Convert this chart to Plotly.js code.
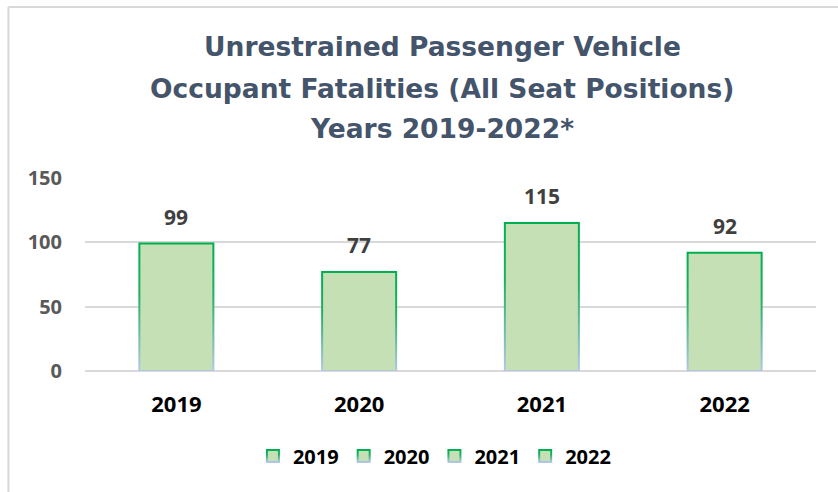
<!DOCTYPE html>
<html>
<head>
<meta charset="utf-8">
<script src="https://cdn.plot.ly/plotly-3.0.1.min.js"></script>
<style>
html,body{margin:0;padding:0;background:#fff;}
#chart{width:838px;height:492px;}
</style>
</head>
<body>
<div id="chart"></div>
<script>
const categories = ['2019', '2020', '2021', '2022'];
const values = [99, 77, 115, 92];
const yTicks = [0, 50, 100, 150];
const titleLines = ['Unrestrained Passenger Vehicle', 'Occupant Fatalities (All Seat Positions)', 'Years 2019-2022*'];

const traces = categories.map((c, i) => ({
  type: 'bar',
  name: c,
  x: [c],
  y: [values[i]],
  width: 0.405,
  marker: {color: '#C5E0B4', line: {color: '#00B050', width: 2}},
  hoverinfo: 'x+y'
}));

const labelAnnotations = categories.map((c, i) => ({
  x: i, y: values[i], xref: 'x', yref: 'y',
  text: String(values[i]), showarrow: false,
  yanchor: 'bottom', yshift: 11,
  font: {family: 'Open Sans, sans-serif', size: 21, color: '#404040', weight: 'bold'}
}));

const titleY = [1.679, 1.466, 1.254];
const titleAnnotations = titleLines.map((t, i) => ({
  x: 0.4884, y: titleY[i], xref: 'paper', yref: 'paper',
  xanchor: 'center', yanchor: 'middle', showarrow: false,
  text: t,
  font: {family: 'DejaVu Sans, sans-serif', size: 26.5, color: '#44546A', weight: 'bold'}
}));

const layout = {
  width: 838, height: 492,
  margin: {l: 85, r: 22, t: 178, b: 121},
  paper_bgcolor: '#ffffff', plot_bgcolor: '#ffffff',
  barmode: 'overlay',
  xaxis: {
    type: 'category', categoryorder: 'array', categoryarray: categories,
    range: [-0.5, 3.5],
    showgrid: false, zeroline: false, showline: false, ticks: '',
    ticklabelstandoff: 18,
    tickfont: {family: 'Open Sans, sans-serif', size: 22, color: '#000000', weight: 'bold'},
    fixedrange: true
  },
  yaxis: {
    range: [0, 150], tickvals: yTicks, ticktext: yTicks.map(String),
    showgrid: true, gridcolor: '#D9D9D9', gridwidth: 2,
    zeroline: true, zerolinecolor: '#D9D9D9', zerolinewidth: 2,
    showline: false, ticks: '', ticklabelstandoff: 22,
    tickfont: {family: 'Open Sans, sans-serif', size: 20, color: '#595959', weight: 'bold'},
    fixedrange: true
  },
  showlegend: true,
  legend: {
    orientation: 'h', x: 0.478, xanchor: 'center', y: -0.34, yanchor: 'top',
    font: {family: 'Open Sans, sans-serif', size: 20, color: '#000000', weight: 'bold'},
    itemwidth: 30, tracegroupgap: 0, bgcolor: 'rgba(0,0,0,0)'
  },
  annotations: titleAnnotations.concat(labelAnnotations),
  shapes: [
    {type: 'line', xref: 'paper', yref: 'paper', x0: -0.1047, x1: 1.05, y0: 1.886, y1: 1.886, line: {color: '#D9D9D9', width: 2}},
    {type: 'line', xref: 'paper', yref: 'paper', x0: -0.1047, x1: -0.1047, y0: 1.886, y1: -0.7, line: {color: '#D9D9D9', width: 2}}
  ]
};

Plotly.newPlot('chart', traces, layout, {displayModeBar: false, staticPlot: true}).then(gd => {
  const svg = gd.querySelector('svg.main-svg');
  const ns = 'http://www.w3.org/2000/svg';
  const defs = document.createElementNS(ns, 'defs');
  const grad = document.createElementNS(ns, 'linearGradient');
  grad.setAttribute('id', 'edgeGrad');
  grad.setAttribute('x1', '0'); grad.setAttribute('y1', '0');
  grad.setAttribute('x2', '0'); grad.setAttribute('y2', '1');
  [['0', '#00B050'], ['0.4', '#1FB062'], ['1', '#B4C7E7']].forEach(([o, c]) => {
    const s = document.createElementNS(ns, 'stop');
    s.setAttribute('offset', o); s.setAttribute('stop-color', c);
    grad.appendChild(s);
  });
  defs.appendChild(grad);
  svg.insertBefore(defs, svg.firstChild);
  gd.querySelectorAll('.barlayer .point path, .legendpoints path').forEach(p => {
    p.style.stroke = 'url(#edgeGrad)';
  });
});
</script>
</body>
</html>
